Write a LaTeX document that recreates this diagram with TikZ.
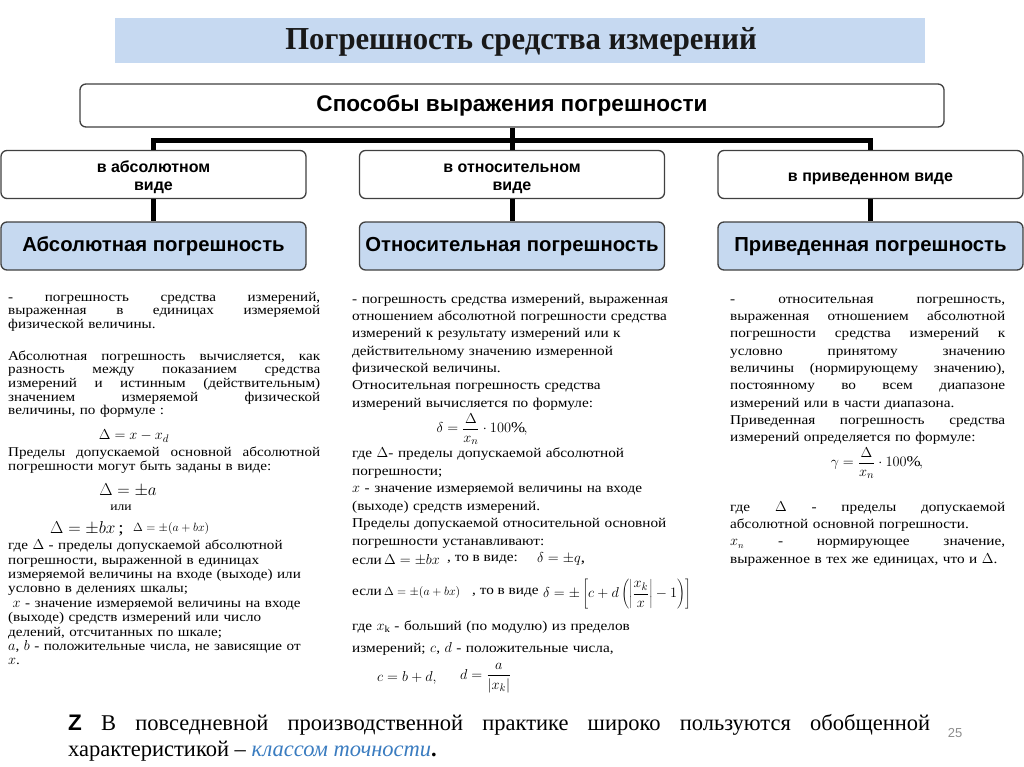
\documentclass[tikz,border=0pt]{standalone}
\usepackage{fontspec}
\setmainfont{Liberation Serif}[FakeStretch=1.13]
\newfontfamily\sansb{Liberation Sans}
\newfontfamily\titlef{Liberation Serif}[FakeStretch=0.96]
\newfontfamily\botf{Liberation Serif}[FakeStretch=1.0]
\newfontfamily\numf{Liberation Sans}
\definecolor{hdrblue}{HTML}{C6D9F1}
\definecolor{boxblue}{HTML}{C6D9F0}
\definecolor{boxline}{HTML}{404040}
\definecolor{linkblue}{HTML}{3A7CC0}
\newcommand{\jsp}{\frenchspacing\spaceskip=0.25em plus 1fil\relax}
\newcommand{\JL}[1]{\makebox[312bp][s]{\jsp#1}}
\newcommand{\JR}[1]{\makebox[275bp][s]{\jsp#1}}
\newcommand{\colA}{\fontsize{13.4bp}{13.6bp}\selectfont}
\newcommand{\colB}{\fontsize{13.5bp}{17.3bp}\selectfont}
\newcommand{\dn}{\rule{0pt}{16.5bp}}
\begin{document}
\begin{tikzpicture}[x=1bp,y=-1bp,
  wbox/.style={draw=boxline, line width=1.3bp, rounded corners=6bp, fill=white, inner sep=0pt, align=center},
  bbox/.style={draw=boxline, line width=1.3bp, rounded corners=6bp, fill=boxblue, inner sep=0pt, align=center,
     minimum width=305bp, minimum height=48bp, text height=15bp, text depth=4.5bp,
     font=\sansb\bfseries\fontsize{20.3bp}{24bp}\selectfont},
  midbox/.style={wbox, minimum width=305bp, minimum height=48bp, font=\sansb\bfseries\fontsize{16bp}{18bp}\selectfont},
  conn/.style={line width=5bp, draw=black, line join=miter},
  txt/.style={inner sep=0pt, anchor=north west, align=left},
  fml/.style={inner sep=0pt, font=\fontsize{15bp}{18bp}\selectfont}
]
\useasboundingbox (0,0) rectangle (1024,767);
% title
\fill[hdrblue] (115,18) rectangle (925,63);
\node[inner sep=0pt, font=\titlef\bfseries\fontsize{32bp}{34bp}\selectfont, text=black!90] (title) at (521,42) {Погрешность средства измерений};
% top box
\node[wbox, minimum width=864bp, minimum height=43bp, font=\sansb\bfseries\fontsize{22.6bp}{26bp}\selectfont] (top) at (512,105.5) {Способы выражения погрешности};
% row 2
\node[midbox] (a2) at (153.5,174.5) {\dn в абсолютном\\виде};
\node[midbox] (b2) at (512,174.5) {\dn в относительном\\виде};
\node[midbox] (c2) at (870.5,174.5) {\dn в приведенном виде};
% row 3
\node[bbox] (a3) at (153.5,246) {Абсолютная погрешность};
\node[bbox] (b3) at (512,246) {Относительная погрешность};
\node[bbox] (c3) at (870.5,246) {Приведенная погрешность};
% connectors
\coordinate (bar) at (512,140);
\draw[conn] (top.south) -- (b2.north);
\draw[conn] (a2.north) -- (a2.north |- bar) -- (c2.north |- bar) -- (c2.north);
\draw[conn] (a2.south) -- (a3.north);
\draw[conn] (b2.south) -- (b3.north);
\draw[conn] (c2.south) -- (c3.north);
% left column
\node[txt, text width=330bp, font=\colA] (l1) at (8,291.5) {\strut\JL{- погрешность средства измерений,}\\
\JL{выраженная в единицах измеряемой}\\
физической величины.};
\node[txt, text width=330bp, font=\colA] (l2) at (8,350.5) {\strut\JL{Абсолютная погрешность вычисляется, как}\\
\JL{разность между показанием средства}\\
\JL{измерений и истинным (действительным)}\\
\JL{значением измеряемой физической}\\
величины, по формуле :};
\node[fml] (f1) at (134,436) {$\Delta = x - x_d$};
\node[txt, text width=330bp, font=\fontsize{13.4bp}{14.8bp}\selectfont] (l3) at (8,445.5) {\strut\JL{Пределы допускаемой основной абсолютной}\\
погрешности могут быть заданы в виде:};
\node[fml, font=\fontsize{17bp}{18bp}\selectfont] (f2) at (128,490) {$\Delta = \pm a$};
\node[inner sep=0pt, font=\fontsize{12bp}{14bp}\selectfont] (ili) at (121,508) {или};
\node[fml, font=\fontsize{17bp}{18bp}\selectfont, anchor=west] (f3) at (50,529) {$\Delta = \pm bx$\,;};
\node[fml, font=\fontsize{13bp}{18bp}\selectfont, anchor=west] (f4) at (133,529) {$\Delta = \pm\bigl(a + bx\bigr)$};
\node[txt, text width=340bp, font=\fontsize{13.4bp}{14.4bp}\selectfont] (l4) at (8,539.5) {\strut где $\Delta$ - пределы допускаемой абсолютной\\
погрешности, выраженной в единицах\\
измеряемой величины на входе (выходе) или\\
условно в делениях шкалы;\\
\ $x$ - значение измеряемой величины на входе\\
(выходе) средств измерений или число\\
делений, отсчитанных по шкале;\\
$a$, $b$ - положительные числа, не зависящие от\\
$x$.};
% middle column
\node[txt, text width=345bp, font=\colB] (m1) at (352,291) {\strut - погрешность средства измерений, выраженная\\
отношением абсолютной погрешности средства\\
измерений к результату измерений или к\\
действительному значению измеренной\\
физической величины.\\
Относительная погрешность средства\\
измерений вычисляется по формуле:};
\node[fml] (f5) at (482,429) {$\displaystyle \delta = \frac{\Delta}{x_n}\cdot 100\%,$};
\node[txt, text width=345bp, font=\fontsize{13.5bp}{17.5bp}\selectfont] (m2) at (352,445.5) {\strut где $\Delta$- пределы допускаемой абсолютной\\
погрешности;\\
$x$ - значение измеряемой величины на входе\\
(выходе) средств измерений.\\
Пределы допускаемой относительной основной\\
погрешности устанавливают:};
\node[inner sep=0pt, anchor=west, font=\fontsize{13.5bp}{15bp}\selectfont] (m3a) at (352,560) {если\,{\fontsize{15bp}{15bp}\selectfont$\Delta = \pm bx$}};
\node[inner sep=0pt, anchor=west, font=\fontsize{13.5bp}{15bp}\selectfont] (m3b) at (447,560) {, то в виде:};
\node[fml, anchor=west] (m3c) at (537,559) {$\delta = \pm q$,};
\node[inner sep=0pt, anchor=west, font=\fontsize{13.5bp}{15bp}\selectfont] (m4a) at (352,593) {если\,{\fontsize{12.5bp}{15bp}\selectfont$\Delta = \pm\bigl(a+bx\bigr)$}};
\node[inner sep=0pt, anchor=west, font=\fontsize{13.5bp}{15bp}\selectfont] (m4b) at (472,593) {, то в виде};
\node[fml, anchor=west] (m4c) at (543,594) {$\displaystyle \delta = \pm\left[c + d\left(\left|\frac{x_k}{x}\right| - 1\right)\right]$};
\node[txt, text width=345bp, font=\fontsize{13.5bp}{22bp}\selectfont] (m5) at (352,615) {\strut где $x_{\mathrm{k}}$ - больший (по модулю) из пределов\\
измерений; $c$, $d$ - положительные числа,};
\node[fml, anchor=west] (m6a) at (377,678) {$c = b + d,$};
\node[fml, anchor=west] (m6b) at (460,678) {$\displaystyle d = \frac{a}{\left|x_k\right|}$};
% right column
\node[txt, text width=292bp, font=\colB] (r1) at (730,291) {\strut\JR{- относительная погрешность,}\\
\JR{выраженная отношением абсолютной}\\
\JR{погрешности средства измерений к}\\
\JR{условно принятому значению}\\
\JR{величины (нормирующему значению),}\\
\JR{постоянному во всем диапазоне}\\
измерений или в части диапазона.\\
\JR{Приведенная погрешность средства}\\
измерений определяется по формуле:};
\node[fml] (f6) at (877,463) {$\displaystyle \gamma = \frac{\Delta}{x_n}\cdot 100\%,$};
\node[txt, text width=292bp, font=\colB] (r2) at (730,499) {\strut\JR{где $\Delta$ - пределы допускаемой}\\
абсолютной основной погрешности.\\
\JR{$x_n$ - нормирующее значение,}\\
выраженное в тех же единицах, что и $\Delta$.};
% bottom
\node[inner sep=0pt, anchor=west, font=\botf\fontsize{22.5bp}{24bp}\selectfont] (bt1) at (68,725) {\makebox[862bp][s]{\jsp{\sansb\bfseries Z} В повседневной производственной практике широко пользуются обобщенной}};
\node[inner sep=0pt, anchor=west, font=\botf\fontsize{22.5bp}{24bp}\selectfont] (bt2) at (68,751) {характеристикой – {\color{linkblue}\itshape классом точности}\textbf{.}};
\node[inner sep=0pt, font=\numf\fontsize{13bp}{14bp}\selectfont, text=black!45] (pg) at (955,733) {25};
\end{tikzpicture}
\end{document}
